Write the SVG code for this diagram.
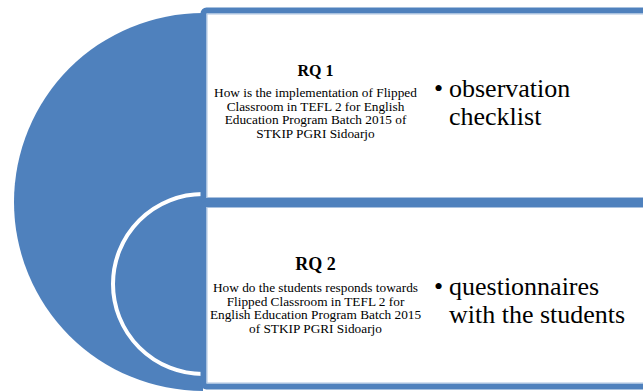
<svg xmlns="http://www.w3.org/2000/svg" width="643" height="391" viewBox="0 0 643 391">
<style>
.blue{fill:#4F81BD}
.box{fill:#FFFFFF;stroke:#4F81BD;stroke-width:6}
.inner{fill:none;stroke:#A9C1DF;stroke-width:1}
.t{font-family:"Liberation Serif","Times New Roman",serif;fill:#000;text-anchor:middle}
.title{font-weight:bold}
.desc{font-size:13.3px}
.bul{font-family:"Liberation Serif","Times New Roman",serif;font-size:26px;fill:#000}
</style>
<g id="arc-shape">
<path class="blue" d="M203,13 A189,189 0 0 0 203,391 Z"/>
<circle cx="203" cy="284" r="90" fill="#4F81BD" stroke="#FFFFFF" stroke-width="4"/>
</g>
<g id="box1">
<rect class="box" x="203.5" y="10.5" width="470" height="190.5" rx="3"/>
<rect class="inner" x="207" y="14" width="463" height="183.5"/>
<text class="t title" x="315.5" y="76" font-size="16">RQ 1</text>
<text class="t desc" x="315.5" y="97">How is the implementation of Flipped</text>
<text class="t desc" x="315.5" y="110.5">Classroom in TEFL 2 for English</text>
<text class="t desc" x="315.5" y="124">Education Program Batch 2015 of</text>
<text class="t desc" x="315.5" y="137.5">STKIP PGRI Sidoarjo</text>
<text class="bul" x="434" y="96.5">•</text>
<text class="bul" x="449" y="96.5">observation</text>
<text class="bul" x="449" y="124.5">checklist</text>
</g>
<g id="box2">
<rect class="box" x="203.5" y="204" width="470" height="182.5" rx="3"/>
<rect class="inner" x="207" y="207.5" width="463" height="175.5"/>
<text class="t title" x="315.5" y="270" font-size="18">RQ 2</text>
<text class="t desc" x="315.5" y="292">How do the students responds towards</text>
<text class="t desc" x="315.5" y="305.5">Flipped Classroom in TEFL 2 for</text>
<text class="t desc" x="315.5" y="319">English Education Program Batch 2015</text>
<text class="t desc" x="315.5" y="332.5">of STKIP PGRI Sidoarjo</text>
<text class="bul" x="434" y="295">•</text>
<text class="bul" x="449" y="295">questionnaires</text>
<text class="bul" x="449" y="322.5">with the students</text>
</g>
<g id="connectors"></g>
</svg>
